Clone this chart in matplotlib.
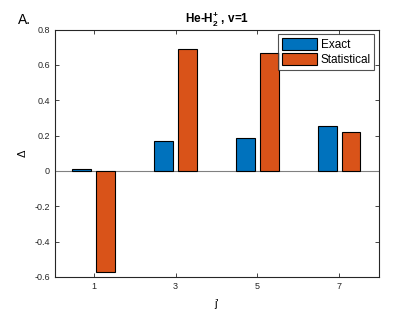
import numpy as np
import matplotlib
matplotlib.use('Agg')
import matplotlib.pyplot as plt

plt.rcParams['font.family'] = ['Liberation Sans', 'DejaVu Sans']
plt.rcParams['mathtext.fontset'] = 'custom'
plt.rcParams['mathtext.rm'] = 'Liberation Sans'
plt.rcParams['mathtext.bf'] = 'Liberation Sans:bold'

# data
j_levels = [1, 3, 5, 7]
exact = [0.01, 0.168, 0.184, 0.255]
statistical = [-0.572, 0.692, 0.665, 0.221]

blue = '#0072BD'
orange = '#D95319'

fig = plt.figure(figsize=(4.19, 3.14), dpi=100)
ax = fig.add_axes([0.131, 0.118, 0.774, 0.788])

x = np.array(j_levels, dtype=float)
w = 0.46
off = 0.29
ax.bar(x - off, exact, width=w, color=blue, edgecolor='black', linewidth=0.8,
       label='Exact', zorder=3)
ax.bar(x + off, statistical, width=w, color=orange, edgecolor='black', linewidth=0.8,
       label='Statistical', zorder=3)
ax.axhline(0, color='#808080', linewidth=0.8, zorder=2)

ax.set_xlim(0.05, 7.98)
ax.set_ylim(-0.6, 0.8)
ax.set_xticks(j_levels)
ax.set_yticks(np.arange(-0.6, 0.81, 0.2))
ax.set_yticklabels(['-0.6', '-0.4', '-0.2', '0', '0.2', '0.4', '0.6', '0.8'])
ax.tick_params(direction='in', top=True, right=True, labelsize=6.5,
               length=3, width=0.6, colors='#262626', labelcolor='#262626')
for s in ax.spines.values():
    s.set_linewidth(0.8)
    s.set_color('#262626')

ax.set_xlabel("j'", fontsize=8, labelpad=6)
ax.set_ylabel('Δ', fontsize=8)
ax.yaxis.set_label_coords(-0.085, 0.5)
ax.set_title(r'He-H$_\mathbf{2}^\mathbf{+}$ , v=1', fontsize=8.5, fontweight='bold', pad=5)
fig.text(0.042, 0.925, 'A.', fontsize=10)

leg = ax.legend(loc='upper right', fontsize=8.5, frameon=True, fancybox=False,
                edgecolor='#262626', handlelength=3.0, handleheight=1.2,
                handletextpad=0.3, borderpad=0.3, labelspacing=0.2,
                borderaxespad=0.4)
leg.get_frame().set_linewidth(0.8)

fig.savefig('out.png', dpi=100)
